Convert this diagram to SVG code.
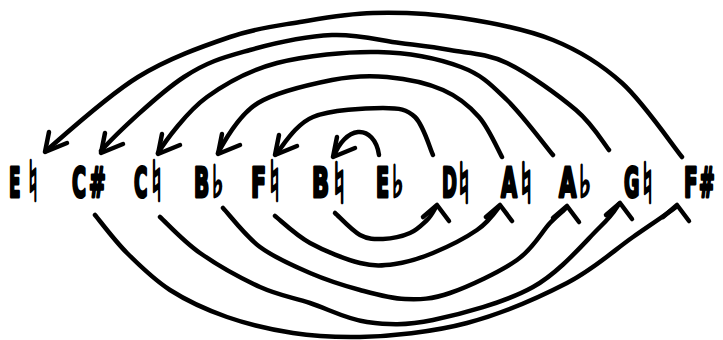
<svg xmlns="http://www.w3.org/2000/svg" xmlns:xlink="http://www.w3.org/1999/xlink" width="723" height="340" viewBox="0 0 723 340">
<style>
  .bg{fill:#ffffff}
  .lt,.nat,.flt{font-family:"DejaVu Sans","Liberation Sans",sans-serif;font-weight:bold;fill:#000;stroke:#000;stroke-linejoin:round}
  .lt{font-size:40px;stroke-width:3px}
  .nat{font-size:56px;stroke-width:2.6px}
  .flt{font-size:44px;stroke-width:2.6px}
  .arc{fill:none;stroke:#000;stroke-width:4.5;stroke-linecap:round;stroke-linejoin:round}
</style>
<defs>
  <path id="headDown" class="arc" d="M22,-9 L0,0 L4,-20"/>
  <path id="headUp" class="arc" d="M-14,12 L0,0 L12,16"/>
</defs>
<rect class="bg" x="0" y="0" width="723" height="340"/>

<g id="nodes">
  <g id="n-E-natural">
    <text class="lt" transform="translate(9,197) scale(0.42,1)">E</text>
    <text class="nat" transform="translate(28,201) scale(0.5,1)">♮</text>
  </g>
  <g id="n-C-sharp">
    <text class="lt" transform="translate(72,197) scale(0.48,1)">C</text>
    <text class="lt" transform="translate(89,197) scale(0.5,1)">#</text>
  </g>
  <g id="n-C-natural">
    <text class="lt" transform="translate(134,197) scale(0.46,1)">C</text>
    <text class="nat" transform="translate(151,201) scale(0.55,1)">♮</text>
  </g>
  <g id="n-B-flat">
    <text class="lt" transform="translate(194,197) scale(0.5,1)">B</text>
    <text class="flt" transform="translate(212,197) scale(0.55,1)">♭</text>
  </g>
  <g id="n-F-natural">
    <text class="lt" transform="translate(251,197) scale(0.55,1)">F</text>
    <text class="nat" transform="translate(269,201) scale(0.55,1)">♮</text>
  </g>
  <g id="n-B-natural">
    <text class="lt" transform="translate(312,197) scale(0.56,1)">B</text>
    <text class="nat" transform="translate(333,203) scale(0.62,1)">♮</text>
  </g>
  <g id="n-E-flat">
    <text class="lt" transform="translate(376,197) scale(0.48,1)">E</text>
    <text class="flt" transform="translate(392,197) scale(0.55,1)">♭</text>
  </g>
  <g id="n-D-natural">
    <text class="lt" transform="translate(442,197) scale(0.45,1)">D</text>
    <text class="nat" transform="translate(458,203) scale(0.6,1)">♮</text>
  </g>
  <g id="n-A-natural">
    <text class="lt" transform="translate(501,197) scale(0.52,1)">A</text>
    <text class="nat" transform="translate(520,203) scale(0.62,1)">♮</text>
  </g>
  <g id="n-A-flat">
    <text class="lt" transform="translate(559,197) scale(0.56,1)">A</text>
    <text class="flt" transform="translate(579,197) scale(0.58,1)">♭</text>
  </g>
  <g id="n-G-natural">
    <text class="lt" transform="translate(624,197) scale(0.47,1)">G</text>
    <text class="nat" transform="translate(642,203) scale(0.55,1)">♮</text>
  </g>
  <g id="n-F-sharp">
    <text class="lt" transform="translate(684,197) scale(0.5,1)">F</text>
    <text class="lt" transform="translate(699,197) scale(0.47,1)">#</text>
  </g>
</g>

<g id="connectors">
  <!-- upper arcs: right note to left note -->
  <path class="arc" d="M682,157 C672,144.7 643.5,102.5 622,83 C600.5,63.5 579.8,50.8 553,40 C526.2,29.2 491,22.5 461,18 C431,13.5 399.8,12.3 373,13 C346.2,13.7 323.8,18 300,22 C276.2,26 257,27.8 230,37 C203,46.2 168.7,58.2 138,77 C107.3,95.8 61.3,137.8 46,151"/>
  <use xlink:href="#headDown" href="#headDown" x="45" y="152"/>

  <path class="arc" d="M609,150 C603.5,143.3 593,124.5 576,110 C559,95.5 528,73 507,63 C486,53 467.8,53.3 450,50 C432.2,46.7 419.7,45.5 400,43 C380.3,40.5 357,33.8 332,35 C307,36.2 274.7,43 250,50 C225.3,57 208.8,60.8 184,77 C159.2,93.2 114.8,135.3 101,151"/>
  <use xlink:href="#headDown" href="#headDown" x="101" y="153"/>

  <path class="arc" d="M553,155 C545.3,145.8 522.3,114.7 507,100 C491.7,85.3 482.5,75 461,67 C439.5,59 408.7,52.7 378,52 C347.3,51.3 305.5,55.5 277,63 C248.5,70.5 227,82.5 207,97 C187,111.5 165.3,141.2 158,153"/>
  <use xlink:href="#headDown" href="#headDown" x="158" y="154"/>

  <path class="arc" d="M502,157 C498.2,150.3 488.8,128.2 479,117 C469.2,105.8 458.3,96.7 443,90 C427.7,83.3 405.5,78.7 387,77 C368.5,75.3 353.5,75.7 332,80 C310.5,84.3 277.2,91.3 258,103 C238.8,114.7 223.8,142.2 218,153"/>
  <use xlink:href="#headDown" href="#headDown" x="218" y="154"/>

  <path class="arc" d="M433,155 C430,148.7 423.3,124.8 415,117 C406.7,109.2 400,108 383,108 C366,108 330.7,109.7 313,117 C295.3,124.3 283,146.2 276,154"/>
  <use xlink:href="#headDown" href="#headDown" x="275" y="155"/>

  <path class="arc" d="M379,155 C377,140 368,131 358,132 C348,133 339,143 334,156"/>
  <use xlink:href="#headDown" href="#headDown" x="333" y="157"/>

  <!-- lower arcs: left note to right note -->
  <path class="arc" d="M335,213 C339.2,216.7 352,230.7 360,235 C368,239.3 374.7,239.3 383,239 C391.3,238.7 402.7,236.2 410,233 C417.3,229.8 422.3,224.3 427,220 C431.7,215.7 434,210 436,207"/>
  <use xlink:href="#headUp" href="#headUp" x="437" y="205"/>

  <path class="arc" d="M275,216 C280.8,220.5 295.8,235.2 310,243 C324.2,250.8 345.8,259.5 360,263 C374.2,266.5 382.8,265.7 395,264 C407.2,262.3 419.3,258.7 433,253 C446.7,247.3 465.8,237.7 477,230 C488.2,222.3 496.2,210.8 499,207"/>
  <use xlink:href="#headUp" href="#headUp" x="500" y="205"/>

  <path class="arc" d="M223,208 C229.2,214.5 245.5,236.2 260,247 C274.5,257.8 293.3,265.8 310,273 C326.7,280.2 344.2,285.7 360,290 C375.8,294.3 390,298.5 405,299 C420,299.5 431.3,299.5 450,293 C468.7,286.5 500.3,271.7 517,260 C533.7,248.3 541.7,231.7 550,223 C558.3,214.3 564.2,210.5 566,208"/>
  <use xlink:href="#headUp" href="#headUp" x="567" y="206"/>

  <path class="arc" d="M160,217 C166.7,223 183.3,241.3 200,253 C216.7,264.7 241.7,278.7 260,287 C278.3,295.3 292.2,297.2 310,303 C327.8,308.8 346.5,319.2 367,322 C387.5,324.8 405.3,325.8 433,320 C460.7,314.2 505.2,302.5 533,287 C560.8,271.5 585.5,241 600,227 C614.5,213 616.7,207 619,204"/>
  <use xlink:href="#headUp" href="#headUp" x="620" y="203"/>

  <path class="arc" d="M95,215 C100.3,221.3 114.5,240.5 127,253 C139.5,265.5 153.3,279.3 170,290 C186.7,300.7 206.5,309.8 227,317 C247.5,324.2 270.8,329.5 293,333 C315.2,336.5 331,337.5 360,337 C389,336.3 432.5,332.2 467,323 C501.5,313.8 539.3,297.3 567,283 C594.7,268.7 614.7,249.7 633,237 C651.3,224.3 669.7,212 676,207"/>
  <use xlink:href="#headUp" href="#headUp" x="677" y="205"/>
</g>
</svg>
